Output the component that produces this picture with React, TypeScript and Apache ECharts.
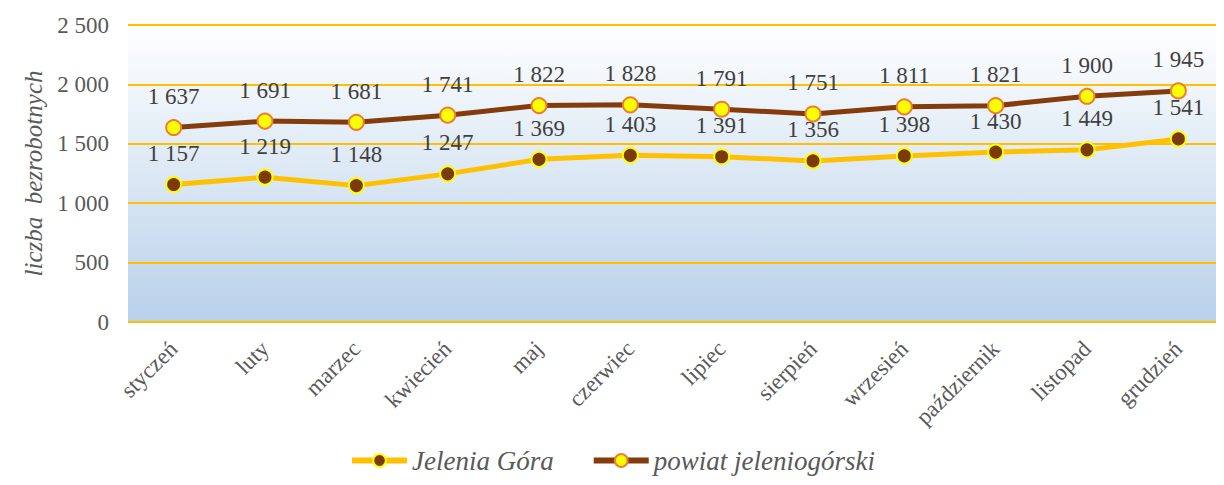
import React, { useEffect, useRef } from "react";
import * as echarts from "echarts";

const categories = ["styczeń", "luty", "marzec", "kwiecień", "maj", "czerwiec", "lipiec", "sierpień", "wrzesień", "październik", "listopad", "grudzień"];
const jeleniaGora = [1157, 1219, 1148, 1247, 1369, 1403, 1391, 1356, 1398, 1430, 1449, 1541];
const powiat = [1637, 1691, 1681, 1741, 1822, 1828, 1791, 1751, 1811, 1821, 1900, 1945];
const yTicks = [0, 500, 1000, 1500, 2000, 2500];

const fmt = (v: number) => String(v).replace(/\B(?=(\d{3})+(?!\d))/g, " ");
const FONT = "Liberation Serif";

export default function App() {
  const ref = useRef<HTMLDivElement>(null);
  useEffect(() => {
    if (!ref.current) return;
    const chart = echarts.init(ref.current, undefined, { renderer: "svg" });
    chart.setOption({
      animation: false,
      textStyle: { fontFamily: FONT },
      grid: {
        left: 128,
        top: 25,
        width: 1109,
        height: 297,
        show: true,
        borderWidth: 0,
        backgroundColor: new echarts.graphic.LinearGradient(0, 0, 0, 1, [
          { offset: 0, color: "#ffffff" },
          { offset: 1, color: "#b8d1ea" },
        ]),
      },
      legend: {
        top: 447,
        left: "center",
        itemWidth: 55,
        itemHeight: 16,
        itemGap: 37,
        padding: 0,
        lineStyle: { width: 6 },
        textStyle: { fontFamily: FONT, fontSize: 27, fontStyle: "italic", color: "#595959" },
        data: ["Jelenia Góra", "powiat jeleniogórski"],
      },
      xAxis: {
        type: "category",
        data: categories,
        boundaryGap: true,
        axisLine: { show: false },
        axisTick: { show: false },
        axisLabel: { rotate: 45, fontFamily: FONT, fontSize: 23, color: "#595959", margin: 23, interval: 0 },
      },
      yAxis: {
        type: "value",
        min: 0,
        max: 2500,
        interval: 500,
        name: "liczba  bezrobotnych",
        nameLocation: "middle",
        nameGap: 82,
        nameTextStyle: { fontFamily: FONT, fontSize: 25, fontStyle: "italic", color: "#595959" },
        axisLine: { show: false },
        axisTick: { show: false },
        axisLabel: {
          fontFamily: FONT,
          fontSize: 23,
          color: "#595959",
          margin: 19,
          formatter: (v: number) => (yTicks.includes(v) ? fmt(v) : ""),
        },
        splitLine: { lineStyle: { color: "#FFC000", width: 2 } },
      },
      series: [
        {
          name: "Jelenia Góra",
          type: "line",
          data: jeleniaGora,
          symbol: "circle",
          symbolSize: 15,
          lineStyle: { color: "#FFC000", width: 5 },
          itemStyle: { color: "#7B3A0A", borderColor: "#FFFF00", borderWidth: 2 },
          label: {
            show: true,
            position: "top",
            distance: 11,
            fontFamily: FONT,
            fontSize: 23,
            color: "#404040",
            formatter: (p: any) => fmt(p.value),
          },
          z: 2,
        },
        {
          name: "powiat jeleniogórski",
          type: "line",
          data: powiat,
          symbol: "circle",
          symbolSize: 15,
          lineStyle: { color: "#843C0C", width: 5 },
          itemStyle: { color: "#FFFF00", borderColor: "#ED7D31", borderWidth: 2 },
          label: {
            show: true,
            position: "top",
            distance: 11,
            fontFamily: FONT,
            fontSize: 23,
            color: "#404040",
            formatter: (p: any) => fmt(p.value),
          },
          z: 3,
        },
      ],
    });
    return () => chart.dispose();
  }, []);
  return <div ref={ref} style={{ width: 1224, height: 485, margin: -8 }} />;
}
